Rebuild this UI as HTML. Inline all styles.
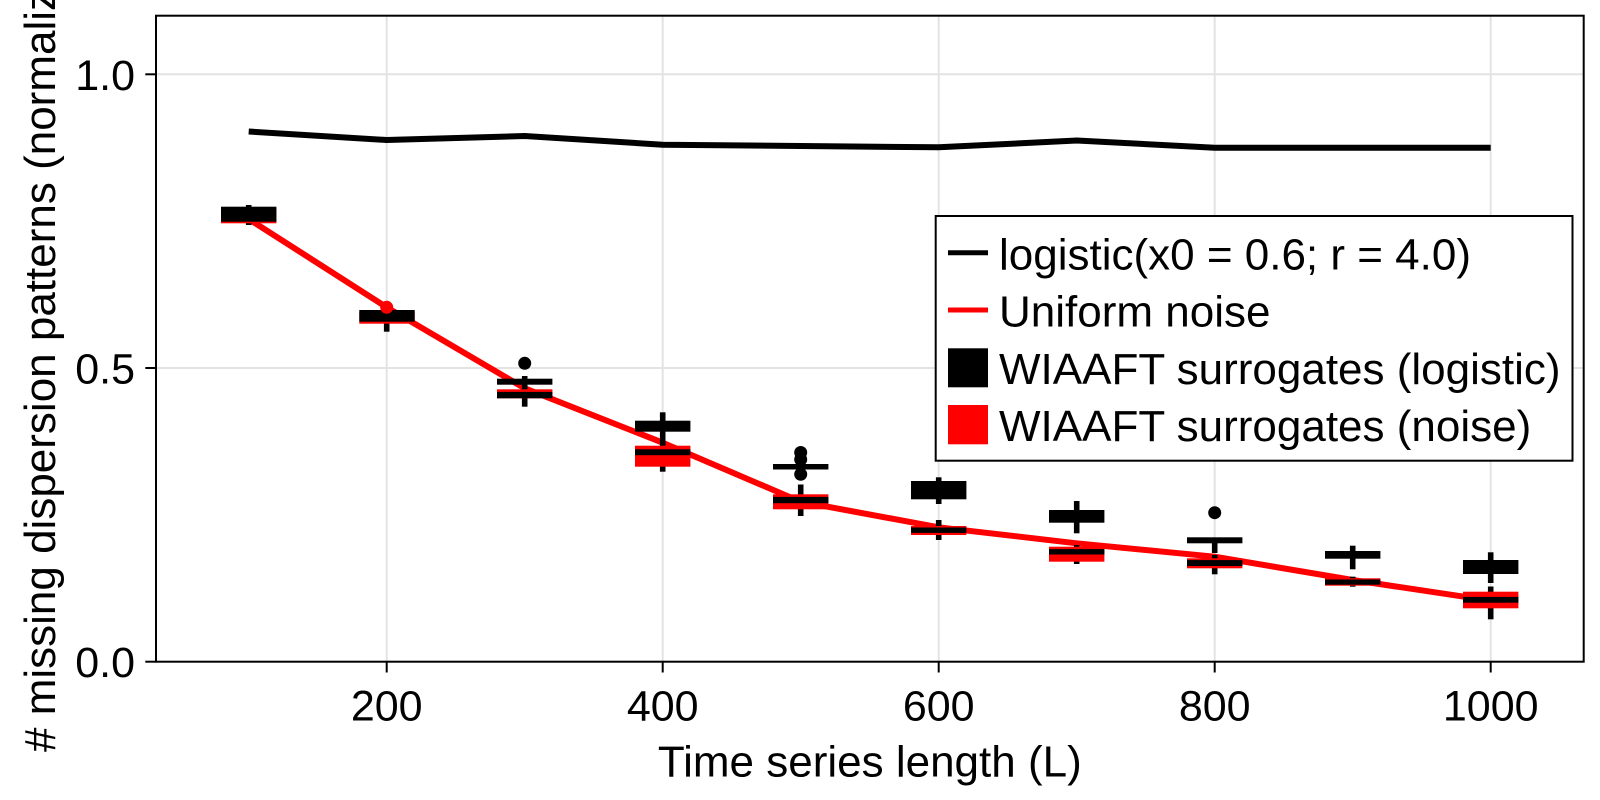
<!DOCTYPE html>
<html>
<head>
<meta charset="utf-8">
<style>
  html, body { margin: 0; padding: 0; background: #ffffff; }
  svg { display: block; }
  text { font-family: "Liberation Sans", "DejaVu Sans", sans-serif; fill: #000; }
</style>
</head>
<body>
<svg width="1600" height="800" viewBox="0 0 1600 800" xmlns="http://www.w3.org/2000/svg">
  <rect x="0" y="0" width="1600" height="800" fill="#ffffff"/>

  <!-- grid lines -->
  <g stroke="#e3e3e3" stroke-width="2">
    <line x1="386.7" y1="15.7" x2="386.7" y2="661.7"/>
    <line x1="662.7" y1="15.7" x2="662.7" y2="661.7"/>
    <line x1="938.7" y1="15.7" x2="938.7" y2="661.7"/>
    <line x1="1214.7" y1="15.7" x2="1214.7" y2="661.7"/>
    <line x1="1490.7" y1="15.7" x2="1490.7" y2="661.7"/>
    <line x1="156" y1="74.3" x2="1583.7" y2="74.3"/>
    <line x1="156" y1="368" x2="1583.7" y2="368"/>
  </g>

  <!-- logistic line -->
  <polyline fill="none" stroke="#000" stroke-width="6" stroke-linejoin="round"
    points="248.7,131.5 386.7,140 524.7,136 662.7,144.7 800.7,146 938.7,147.3 1076.7,140.5 1214.7,147.7 1352.7,147.7 1490.7,147.7"/>

  <!-- uniform noise line -->
  <polyline fill="none" stroke="#ff0000" stroke-width="6" stroke-linejoin="round"
    points="248.7,219 386.7,307.3 524.7,388.3 662.7,442.7 800.7,501.7 938.7,527.3 1076.7,543.3 1214.7,556.7 1352.7,580 1490.7,600.7"/>

  <!-- boxplots -->
  <g>
    <!-- L=100 -->
    <rect x="245.9" y="205" width="5.6" height="20" fill="#000"/>
    <rect x="221" y="208" width="55.4" height="15.3" fill="#ff0000"/>
    <rect x="221" y="206.7" width="55.4" height="15" fill="#000"/>

    <!-- L=200 -->
    <rect x="383.9" y="306" width="5.6" height="25.7" fill="#000"/>
    <rect x="359.3" y="312" width="55.4" height="11.7" fill="#ff0000"/>
    <rect x="359.3" y="310" width="55.4" height="11.7" fill="#000"/>

    <!-- L=300 -->
    <rect x="521.9" y="376" width="5.6" height="30.7" fill="#000"/>
    <rect x="497" y="378.7" width="55.4" height="6" fill="#000"/>
    <rect x="497" y="389.3" width="55.4" height="9" fill="#ff0000"/>
    <rect x="497" y="391.9" width="55.4" height="6.4" fill="#000"/>
    <circle cx="524.7" cy="363.3" r="6.5" fill="#000"/>

    <!-- L=400 -->
    <rect x="659.9" y="412.3" width="5.6" height="59.4" fill="#000"/>
    <rect x="635" y="420.7" width="55.4" height="11" fill="#000"/>
    <rect x="635" y="445.7" width="55.4" height="21" fill="#ff0000"/>
    <rect x="635" y="449.3" width="55.4" height="5.9" fill="#000"/>

    <!-- L=500 -->
    <rect x="797.9" y="484.5" width="5.6" height="31.5" fill="#000"/>
    <circle cx="800.7" cy="452.5" r="6.5" fill="#000"/>
    <circle cx="800.7" cy="459.5" r="6.5" fill="#000"/>
    <circle cx="800.7" cy="474.3" r="6.5" fill="#000"/>
    <rect x="773" y="464" width="55.4" height="5.5" fill="#000"/>
    <rect x="773" y="494.3" width="55.4" height="15" fill="#ff0000"/>
    <rect x="773" y="496.9" width="55.4" height="6.3" fill="#000"/>

    <!-- L=600 -->
    <rect x="935.9" y="477.3" width="5.6" height="26.7" fill="#000"/>
    <rect x="935.9" y="520" width="5.6" height="20" fill="#000"/>
    <rect x="911" y="481" width="55.4" height="18.3" fill="#000"/>
    <rect x="911" y="526" width="55.4" height="9" fill="#ff0000"/>
    <rect x="911" y="527.5" width="55.4" height="5.4" fill="#000"/>

    <!-- L=700 -->
    <rect x="1073.9" y="501" width="5.6" height="32.3" fill="#000"/>
    <rect x="1073.9" y="545" width="5.6" height="19" fill="#000"/>
    <rect x="1049" y="510" width="55.4" height="12.7" fill="#000"/>
    <rect x="1049" y="546.7" width="55.4" height="15" fill="#ff0000"/>
    <rect x="1049" y="549.1" width="55.4" height="5.4" fill="#000"/>

    <!-- L=800 -->
    <circle cx="1214.7" cy="512.7" r="6.5" fill="#000"/>
    <rect x="1211.9" y="542" width="5.6" height="11" fill="#000"/>
    <rect x="1211.9" y="555" width="5.6" height="19.3" fill="#000"/>
    <rect x="1187" y="537.3" width="55.4" height="6" fill="#000"/>
    <rect x="1187" y="558.3" width="55.4" height="10" fill="#ff0000"/>
    <rect x="1187" y="560.1" width="55.4" height="5.9" fill="#000"/>

    <!-- L=900 -->
    <rect x="1349.9" y="545.7" width="5.6" height="23.6" fill="#000"/>
    <rect x="1349.9" y="576.7" width="5.6" height="10" fill="#000"/>
    <rect x="1325" y="551" width="55.4" height="7.7" fill="#000"/>
    <rect x="1325" y="578.3" width="55.4" height="7.4" fill="#ff0000"/>
    <rect x="1325" y="579.5" width="55.4" height="5.2" fill="#000"/>

    <!-- L=1000 -->
    <rect x="1487.9" y="552.3" width="5.6" height="30.7" fill="#000"/>
    <rect x="1487.9" y="586.5" width="5.6" height="32.8" fill="#000"/>
    <rect x="1463" y="560" width="55.4" height="14" fill="#000"/>
    <rect x="1463" y="591.7" width="55.4" height="16.6" fill="#ff0000"/>
    <rect x="1463" y="596.9" width="55.4" height="5.8" fill="#000"/>

    <!-- red outlier at L=200 -->
    <circle cx="386.7" cy="307.3" r="6.5" fill="#ff0000"/>
  </g>

  <!-- axes frame -->
  <rect x="156" y="15.7" width="1427.7" height="646" fill="none" stroke="#000" stroke-width="2"/>

  <!-- ticks -->
  <g stroke="#000" stroke-width="2">
    <line x1="145.3" y1="74.3" x2="156" y2="74.3"/>
    <line x1="145.3" y1="368" x2="156" y2="368"/>
    <line x1="145.3" y1="661.7" x2="156" y2="661.7"/>
    <line x1="386.7" y1="661.7" x2="386.7" y2="672.5"/>
    <line x1="662.7" y1="661.7" x2="662.7" y2="672.5"/>
    <line x1="938.7" y1="661.7" x2="938.7" y2="672.5"/>
    <line x1="1214.7" y1="661.7" x2="1214.7" y2="672.5"/>
    <line x1="1490.7" y1="661.7" x2="1490.7" y2="672.5"/>
  </g>

  <!-- y tick labels -->
  <g font-size="43" text-anchor="end">
    <text x="135" y="89.8">1.0</text>
    <text x="135" y="383.5">0.5</text>
    <text x="135" y="677.2">0.0</text>
  </g>

  <!-- x tick labels -->
  <g font-size="43" text-anchor="middle">
    <text x="386.7" y="720.5">200</text>
    <text x="662.7" y="720.5">400</text>
    <text x="938.7" y="720.5">600</text>
    <text x="1214.7" y="720.5">800</text>
    <text x="1490.7" y="720.5">1000</text>
  </g>

  <!-- axis labels -->
  <text x="869.8" y="776.7" font-size="44" text-anchor="middle">Time series length (L)</text>
  <text transform="translate(55,338.7) rotate(-90)" x="0" y="0" font-size="44" text-anchor="middle"># missing dispersion patterns (normalized)</text>

  <!-- legend -->
  <rect x="935.7" y="216" width="636.8" height="244.7" fill="#ffffff" stroke="#000" stroke-width="2"/>
  <line x1="948" y1="252.7" x2="988" y2="252.7" stroke="#000" stroke-width="5"/>
  <line x1="948" y1="310" x2="988" y2="310" stroke="#ff0000" stroke-width="5"/>
  <rect x="948" y="348.3" width="40" height="39" fill="#000"/>
  <rect x="948" y="405" width="40" height="39.3" fill="#ff0000"/>
  <g font-size="44">
    <text x="999" y="269.5">logistic(x0 = 0.6; r = 4.0)</text>
    <text x="999" y="326.7">Uniform noise</text>
    <text x="999" y="384">WIAAFT surrogates (logistic)</text>
    <text x="999" y="441">WIAAFT surrogates (noise)</text>
  </g>
</svg>
</body>
</html>
